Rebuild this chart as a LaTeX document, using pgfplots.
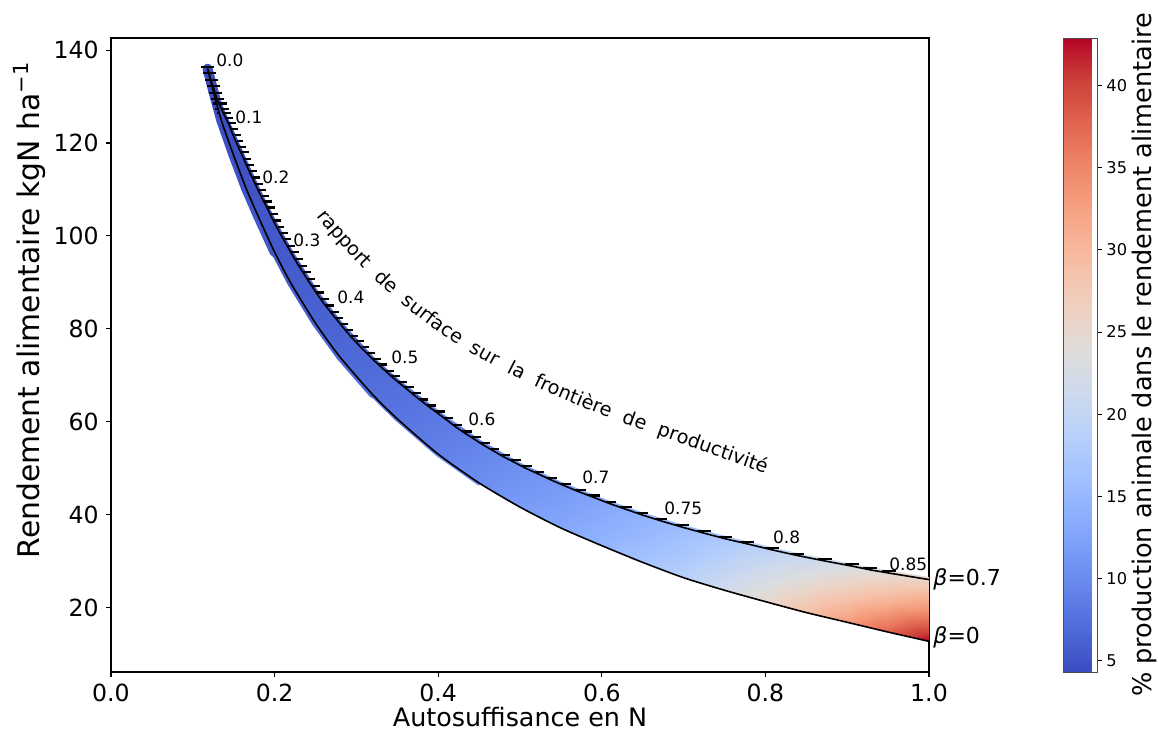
\documentclass[border=0pt]{standalone}
\usepackage{fontspec}
\setmainfont{DejaVu Sans}
\newfontfamily\wsfont[WordSpace=2.1]{DejaVu Sans}
\usepackage{pgfplots}
\usepackage{pgfplotstable}
\pgfplotsset{compat=1.18}
\usetikzlibrary{decorations.text}
\pgfplotsset{colormap={coolwarm}{rgb255=(59,76,192) rgb255=(77,104,215) rgb255=(98,130,234) rgb255=(119,154,247) rgb255=(141,176,254) rgb255=(163,194,255) rgb255=(184,208,249) rgb255=(204,217,238) rgb255=(221,221,221) rgb255=(236,211,197) rgb255=(245,196,173) rgb255=(247,177,148) rgb255=(244,154,123) rgb255=(236,127,99) rgb255=(222,96,77) rgb255=(203,62,56) rgb255=(180,4,38)}}

% ratio markers along the beta=0.7 frontier
\pgfplotstableread{
x y
0.1180 136.0
0.1204 134.6
0.1229 133.1
0.1253 131.8
0.1279 130.4
0.1304 129.0
0.1330 128.1
0.1358 127.0
0.1385 126.0
0.1413 125.0
0.1443 123.9
0.1472 122.6
0.1502 121.3
0.1533 120.1
0.1565 118.8
0.1598 117.6
0.1631 116.2
0.1665 114.9
0.1700 113.5
0.1736 112.2
0.1773 110.8
0.1807 109.5
0.1844 108.2
0.1879 107.0
0.1917 105.7
0.1955 104.3
0.1995 102.9
0.2035 101.6
0.2077 100.2
0.2120 98.9
0.2164 97.5
0.2210 96.1
0.2259 94.6
0.2308 93.2
0.2359 91.8
0.2412 90.3
0.2466 88.9
0.2522 87.4
0.2579 86.0
0.2639 84.6
0.2702 83.2
0.2759 82.0
0.2818 80.7
0.2879 79.4
0.2941 78.1
0.3007 76.9
0.3076 75.6
0.3146 74.4
0.3219 73.1
0.3295 71.9
0.3374 70.6
0.3452 69.4
0.3533 68.2
0.3617 67.0
0.3705 65.7
0.3798 64.4
0.3894 63.1
0.3995 61.8
0.4100 60.4
0.4212 58.9
0.4328 57.5
0.4435 56.3
0.4548 55.0
0.4666 53.8
0.4792 52.5
0.4925 51.3
0.5066 50.0
0.5215 48.8
0.5373 47.5
0.5542 46.2
0.5721 44.9
0.5900 43.7
0.6090 42.4
0.6284 41.2
0.6479 40.0
0.6711 38.7
0.6980 37.3
0.7249 36.0
0.7506 34.8
0.7775 33.7
0.8081 32.4
0.8386 31.2
0.8729 30.0
0.9059 28.9
0.9279 28.1
0.9511 27.4
}\dashes

% boundary curves: lower (beta=0) and upper (beta=0.7), with colour values
\pgfplotstableread{
x yl cl yu cu
0.118 136.0 4.4 136.0 4.4
0.125 131.2 4.45 131.9 4.45
0.135 124.8 4.6 127.3 4.5
0.15 117.3 4.8 121.4 4.7
0.165 110.3 5.0 115.5 4.85
0.18 104.2 5.2 109.8 5.0
0.20 96.5 5.5 102.75 5.25
0.22 89.8 5.8 96.4 5.5
0.25 81.2 6.3 88.0 5.9
0.28 73.9 6.8 81.1 6.3
0.32 65.8 7.5 73.4 6.9
0.35 60.6 8.0 68.7 7.3
0.40 53.0 9.0 61.75 8.2
0.45 46.8 10.3 55.6 9.3
0.50 41.6 11.7 50.6 10.4
0.55 37.1 13.0 46.5 11.5
0.60 33.3 14.6 43.0 12.8
0.65 29.7 16.6 39.9 14.2
0.70 26.4 18.8 37.2 15.6
0.75 23.7 21.7 34.9 17.2
0.80 21.25 25.0 32.75 19.0
0.85 18.9 28.8 30.8 20.7
0.90 16.8 33.0 29.06 22.5
0.95 14.7 37.8 27.5 24.2
1.00 12.7 43.0 26.0 26.0
}\lines

\begin{document}
\begin{tikzpicture}
\begin{axis}[
  name=ax,
  scale only axis, width=409pt, height=317pt,
  xmin=0, xmax=1, ymin=6.1, ymax=142.6,
  clip mode=individual,
  axis line style={black, line width=0.55pt},
  tick align=outside, tick pos=left,
  major tick length=2.5pt,
  every tick/.style={black, line width=0.55pt},
  xtick={0,0.2,0.4,0.6,0.8,1.0},
  ytick={20,40,60,80,100,120,140},
  /pgf/number format/assume math mode=true,
  tick label style={font=\fontsize{11.8}{14}\selectfont, inner sep=0pt},
  xticklabel style={yshift=-3.5pt, /pgf/number format/fixed, /pgf/number format/fixed zerofill, /pgf/number format/precision=1},
  yticklabel style={xshift=-3.5pt},
  xlabel={Autosuffisance en N},
  ylabel={Rendement alimentaire kgN ha\textsuperscript{−1}},
  xlabel style={font=\fontsize{12.7}{15}\selectfont, inner sep=0pt, at={(axis description cs:0.5,0)}, anchor=north, yshift=-17.3pt},
  ylabel style={font=\fontsize{14.9}{18}\selectfont, inner sep=0pt, at={(axis description cs:-0.1198,0.571)}, anchor=north},
  colormap name=coolwarm,
  point meta min=4.3, point meta max=42.9,
  colorbar,
  colorbar style={
    scale only axis, width=17pt, height=317pt,
    at={(parent axis.south east)}, anchor=south west, xshift=58.5pt,
    ytick={5,10,...,40},
    tick align=outside, major tick length=2.5pt,
    ytick pos=right, yticklabel pos=right,
    /pgf/number format/assume math mode=true,
    yticklabel style={font=\fontsize{8.1}{10}\selectfont, inner sep=0pt, anchor=west, xshift=2pt},
    axis line style={line width=0.5pt, black!70},
    every tick/.style={black, line width=0.5pt},
    ylabel={\% production animale dans le rendement alimentaire},
    ylabel style={font=\fontsize{12.8}{15}\selectfont, inner sep=0pt, at={(axis description cs:2.03,0.5)}, anchor=north},
  },
]
% fringes of the scatter band
\addplot[mesh, point meta=explicit, line width=2.4pt, line cap=round, forget plot] table[x=x, y=yu, meta=cu] {\lines};
\addplot[mesh, point meta=explicit, line width=2.5pt, line cap=round, forget plot, restrict x to domain=0.29:0.46] table[x=x, y=yl, meta=cl] {\lines};
\addplot[mesh, point meta=explicit, line width=3.5pt, line cap=round, forget plot, restrict x to domain=0.17:0.33] table[x=x, y=yl, meta=cl] {\lines};
\addplot[mesh, point meta=explicit, line width=5pt, line cap=round, forget plot, restrict x to domain=0.1:0.21] table[x=x, y=yl, meta=cl] {\lines};
% ratio tick dashes
\addplot[only marks, mark=-, mark size=3.4pt, mark options={line width=1.1pt, black, yshift=0.9pt}, forget plot] table[x=x, y=y] {\dashes};
% colour band
\addplot[surf, shader=interp, mesh/cols=25, point meta=explicit, forget plot] table[x=x, y=y, meta=c] {
x y c
0.118 136.0 4.4
0.125 131.2 4.45
0.135 124.8 4.6
0.15 117.3 4.8
0.165 110.3 5.0
0.18 104.2 5.2
0.20 96.5 5.5
0.22 89.8 5.8
0.25 81.2 6.3
0.28 73.9 6.8
0.32 65.8 7.5
0.35 60.6 8.0
0.40 53.0 9.0
0.45 46.8 10.3
0.50 41.6 11.7
0.55 37.1 13.0
0.60 33.3 14.6
0.65 29.7 16.6
0.70 26.4 18.8
0.75 23.7 21.7
0.80 21.25 25.0
0.85 18.9 28.8
0.90 16.8 33.0
0.95 14.7 37.8
1.00 12.7 43.0
0.118 136.0 4.4
0.125 131.55 4.45
0.135 126.05 4.55
0.15 119.35 4.7
0.165 112.9 4.9
0.18 107.0 5.1
0.20 99.63 5.35
0.22 93.1 5.6
0.25 84.6 6.05
0.28 77.5 6.5
0.32 69.6 7.2
0.35 64.65 7.6
0.40 57.38 8.6
0.45 51.2 9.8
0.50 46.1 11.0
0.55 41.8 12.2
0.60 38.15 13.6
0.65 34.8 15.2
0.70 31.8 17.0
0.75 29.3 19.3
0.80 27.0 22.0
0.85 24.85 24.8
0.90 22.93 27.7
0.95 21.1 30.8
1.00 19.35 34.0
0.118 136.0 4.4
0.125 131.9 4.45
0.135 127.3 4.5
0.15 121.4 4.7
0.165 115.5 4.85
0.18 109.8 5.0
0.20 102.75 5.25
0.22 96.4 5.5
0.25 88.0 5.9
0.28 81.1 6.3
0.32 73.4 6.9
0.35 68.7 7.3
0.40 61.75 8.2
0.45 55.6 9.3
0.50 50.6 10.4
0.55 46.5 11.5
0.60 43.0 12.8
0.65 39.9 14.2
0.70 37.2 15.6
0.75 34.9 17.2
0.80 32.75 19.0
0.85 30.8 20.7
0.90 29.06 22.5
0.95 27.5 24.2
1.00 26.0 26.0
};
% boundary lines
\addplot[black, line width=0.8pt, forget plot] table[x=x, y=y] {\dashes};
\addplot[black, line width=0.8pt, forget plot] coordinates {(0.9511,27.4) (1.0,26.0)};
\addplot[black, line width=0.8pt, smooth, tension=0.4, forget plot] table[x=x, y=yl] {\lines};
% ratio labels
\begin{scope}[every node/.style={anchor=west, inner sep=0pt, font=\fontsize{8.5}{10}\selectfont}]
\node at (axis cs:0.1284,137.8) {0.0};
\node at (axis cs:0.1516,125.6) {0.1};
\node at (axis cs:0.1846,112.5) {0.2};
\node at (axis cs:0.2225,99.1) {0.3};
\node at (axis cs:0.2763,86.7) {0.4};
\node at (axis cs:0.3423,73.8) {0.5};
\node at (axis cs:0.4364,60.4) {0.6};
\node at (axis cs:0.5758,48.0) {0.7};
\node at (axis cs:0.676,41.3) {0.75};
\node at (axis cs:0.809,35.05) {0.8};
\node at (axis cs:0.951,29.25) {0.85};
\end{scope}
\node[anchor=west, inner sep=0pt, font=\fontsize{11}{13}\selectfont] at (axis cs:1.005,26.0) {\textit{β}=0.7};
\node[anchor=west, inner sep=0pt, font=\fontsize{11}{13}\selectfont] at (axis cs:1.005,13.5) {\textit{β}=0};
\coordinate (t1) at (axis cs:0.2531,103.87);
\coordinate (t10) at (axis cs:0.7970,49.0);
\end{axis}
\begin{scope}
\wsfont\fontsize{9.6}{12}\selectfont
\path[decorate, decoration={text along path, text align=center, text={rapport de surface sur la fronti{è}re de productivit{é}}}]
  (t1) to[out=-51, in=160] (t10);
\end{scope}
\pgfresetboundingbox
\path (ax.south west) ++(-55.5pt,-32pt) rectangle ++(579pt,368pt);
\end{tikzpicture}
\end{document}
